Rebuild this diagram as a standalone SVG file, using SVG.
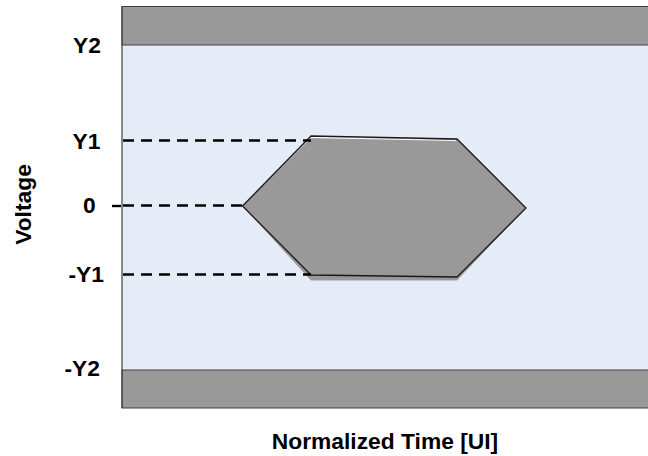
<svg xmlns="http://www.w3.org/2000/svg" width="648" height="456" viewBox="0 0 648 456">
<style>
.lbl{font-family:"Liberation Sans",Arial,sans-serif;font-weight:bold;font-size:22.8px;fill:#000}
.band{fill:#999999;stroke:#404040;stroke-width:1}
.dash{stroke:#000;stroke-width:2.5;stroke-dasharray:11 7;fill:none}
</style>
<rect width="648" height="456" fill="#ffffff"/>
<g id="plot">
<rect x="122" y="6" width="530" height="402" fill="#E6ECF7"/>
<rect id="upper-band" class="band" x="122" y="6.5" width="530" height="38.5"/>
<rect id="lower-band" class="band" x="122" y="370" width="530" height="38"/>
<line x1="122" y1="6" x2="122" y2="408" stroke="#404040" stroke-width="1.2"/>
</g>
<g id="eye">
<polygon points="242.5,206 311,138 457,139 526,208 457,280.5 311,280.5" fill="#999999"/>
<polyline points="312,137.5 456,140.5" stroke="#ffffff" stroke-width="1" fill="none"/>
<polygon points="242.5,206 311,136 457,139 526,208 457,277 311,275" fill="none" stroke="#1a1a1a" stroke-width="1.3" stroke-linejoin="miter"/>
</g>
<g id="connectors">
<line class="dash" x1="123" y1="140.5" x2="311" y2="140.5"/>
<line class="dash" x1="123" y1="205.5" x2="242" y2="205.5"/>
<line class="dash" x1="123" y1="274.5" x2="311" y2="274.5"/>
<line x1="112" y1="206" x2="121" y2="206" stroke="#000" stroke-width="2.4"/>
</g>
<g id="labels">
<text class="lbl" x="73" y="52.5">Y2</text>
<text class="lbl" x="72.5" y="149">Y1</text>
<text class="lbl" x="83" y="212.5">0</text>
<text class="lbl" x="68.5" y="281.5">-Y1</text>
<text class="lbl" x="64.5" y="376">-Y2</text>
<text class="lbl" transform="translate(30.5,204.5) rotate(-90)" text-anchor="middle">Voltage</text>
<text class="lbl" x="385" y="448.5" text-anchor="middle">Normalized Time [UI]</text>
</g>
</svg>
